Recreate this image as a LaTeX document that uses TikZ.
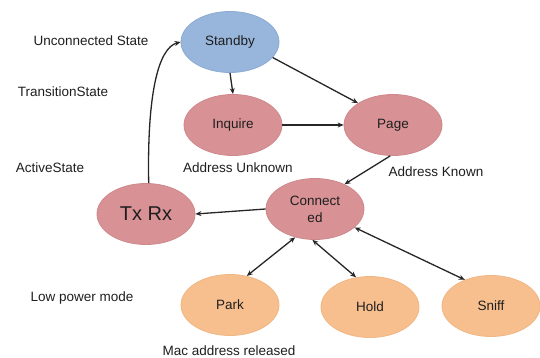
\documentclass[tikz,border=0pt]{standalone}
\usepackage{fontspec}
\setmainfont{Liberation Sans}
\usetikzlibrary{shapes.geometric,arrows.meta}
\definecolor{stateblue}{RGB}{152,182,220}
\definecolor{stateblueedge}{RGB}{140,170,210}
\definecolor{statepink}{RGB}{216,146,149}
\definecolor{statepinkedge}{RGB}{206,136,140}
\definecolor{stateorange}{RGB}{248,191,142}
\definecolor{stateorangeedge}{RGB}{240,182,132}
\definecolor{inktext}{RGB}{30,30,30}
\tikzset{
  x=1pt, y=-1pt,
  every node/.style={font=\fontsize{13.5}{17}\selectfont, text=inktext},
  statebox/.style={ellipse, inner sep=0pt, line width=0.8pt,
    minimum width=98pt, minimum height=61pt, align=center},
  idle/.style={statebox, fill=stateblue, draw=stateblueedge},
  active/.style={statebox, fill=statepink, draw=statepinkedge},
  lowpower/.style={statebox, fill=stateorange, draw=stateorangeedge},
  caption/.style={anchor=center},
  link/.style={line width=1.3pt, draw=black!85, -{Stealth[length=6pt,width=5pt]}},
  duplex/.style={line width=1.3pt, draw=black!85,
    {Stealth[length=6pt,width=5pt]}-{Stealth[length=6pt,width=5pt]}}
}
\begin{document}
\begin{tikzpicture}
\useasboundingbox (0,0) rectangle (540,358);

% states
\node[idle]     (standby)   at (230,42)  {Standby};
\node[active]   (inquire)   at (233,125) {Inquire};
\node[active]   (page)      at (393,125) {Page};
\node[active]   (connected) at (315,209) {Connect\\ed};
\node[active, font=\fontsize{20}{22}\selectfont] (txrx) at (146,214) {Tx Rx};
\node[lowpower] (park)      at (230,305) {Park};
\node[lowpower] (hold)      at (370,307) {Hold};
\node[lowpower] (sniff)     at (491,306) {Sniff};

% level captions
\node[caption] (lvlunconn) at (91,41)  {Unconnected State};
\node[caption] (lvltrans)  at (63,92)  {TransitionState};
\node[caption] (lvlactive) at (50,168) {ActiveState};
\node[caption] (lvllow)    at (82,298) {Low power mode};

% transition notes
\node[caption] (addrunk)  at (238,168) {Address Unknown};
\node[caption] (addrkn)   at (436,172) {Address Known};
\node[caption] (macrel)   at (229,351) {Mac address released};

% transitions
\draw[link] (standby.south) -- (inquire.north);
\draw[link] (standby.-20) -- (page.north west);
\draw[link] (inquire.east) -- (page.west);
\draw[link] (page.-95) -- (connected.40);
\draw[link] (connected.west) -- (txrx.east);
\draw[link] (txrx.85) .. controls (147,95) and (158,48) .. (standby.west);
\draw[duplex] (connected.-125) -- (park.60);
\draw[duplex] (connected.-95) -- (hold.115);
\draw[duplex] (connected.-25) -- (sniff.135);
\end{tikzpicture}
\end{document}
